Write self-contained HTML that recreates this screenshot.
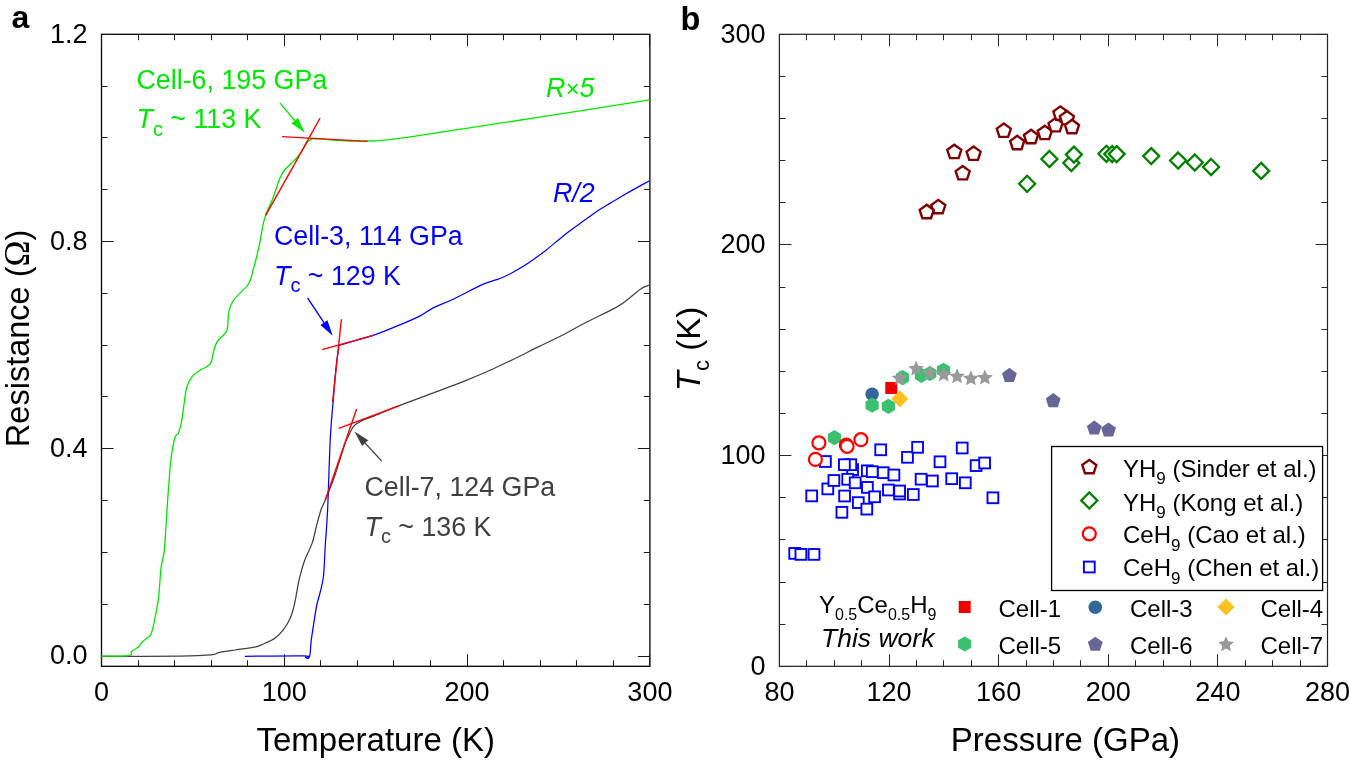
<!DOCTYPE html>
<html><head><meta charset="utf-8"><style>
html,body{margin:0;padding:0;background:#fff;}
svg{display:block;font-family:"Liberation Sans", sans-serif;will-change:transform;}
</style></head><body>
<svg width="1350" height="761" viewBox="0 0 1350 761">
<rect width="1350" height="761" fill="#fff"/>
<rect x="101.5" y="34.3" width="548.40" height="632.00" fill="none" stroke="#000" stroke-width="1.3"/>
<path d="M101.50,666.3 v-12 M101.50,34.3 v12 M138.50,666.3 v-6 M138.50,34.3 v6 M174.50,666.3 v-6 M174.50,34.3 v6 M211.50,666.3 v-6 M211.50,34.3 v6 M247.50,666.3 v-6 M247.50,34.3 v6 M284.50,666.3 v-12 M284.50,34.3 v12 M320.50,666.3 v-6 M320.50,34.3 v6 M357.50,666.3 v-6 M357.50,34.3 v6 M393.50,666.3 v-6 M393.50,34.3 v6 M430.50,666.3 v-6 M430.50,34.3 v6 M467.50,666.3 v-12 M467.50,34.3 v12 M503.50,666.3 v-6 M503.50,34.3 v6 M540.50,666.3 v-6 M540.50,34.3 v6 M576.50,666.3 v-6 M576.50,34.3 v6 M613.50,666.3 v-6 M613.50,34.3 v6 M649.50,666.3 v-12 M649.50,34.3 v12 M101.5,656.50 h12 M649.9,656.50 h-12 M101.5,604.50 h6 M649.9,604.50 h-6 M101.5,552.50 h6 M649.9,552.50 h-6 M101.5,500.50 h6 M649.9,500.50 h-6 M101.5,448.50 h12 M649.9,448.50 h-12 M101.5,396.50 h6 M649.9,396.50 h-6 M101.5,345.50 h6 M649.9,345.50 h-6 M101.5,293.50 h6 M649.9,293.50 h-6 M101.5,241.50 h12 M649.9,241.50 h-12 M101.5,189.50 h6 M649.9,189.50 h-6 M101.5,137.50 h6 M649.9,137.50 h-6 M101.5,86.50 h6 M649.9,86.50 h-6 M101.5,34.50 h12 M649.9,34.50 h-12" stroke="#1a1a1a" stroke-width="1.05" fill="none"/>
<rect x="779.4" y="34.3" width="548.10" height="632.00" fill="none" stroke="#222" stroke-width="1.2"/>
<path d="M779.50,666.3 v-12 M779.50,34.3 v12 M806.50,666.3 v-6 M806.50,34.3 v6 M834.50,666.3 v-6 M834.50,34.3 v6 M861.50,666.3 v-6 M861.50,34.3 v6 M889.50,666.3 v-12 M889.50,34.3 v12 M916.50,666.3 v-6 M916.50,34.3 v6 M943.50,666.3 v-6 M943.50,34.3 v6 M971.50,666.3 v-6 M971.50,34.3 v6 M998.50,666.3 v-12 M998.50,34.3 v12 M1026.50,666.3 v-6 M1026.50,34.3 v6 M1053.50,666.3 v-6 M1053.50,34.3 v6 M1080.50,666.3 v-6 M1080.50,34.3 v6 M1108.50,666.3 v-12 M1108.50,34.3 v12 M1135.50,666.3 v-6 M1135.50,34.3 v6 M1163.50,666.3 v-6 M1163.50,34.3 v6 M1190.50,666.3 v-6 M1190.50,34.3 v6 M1217.50,666.3 v-12 M1217.50,34.3 v12 M1245.50,666.3 v-6 M1245.50,34.3 v6 M1272.50,666.3 v-6 M1272.50,34.3 v6 M1300.50,666.3 v-6 M1300.50,34.3 v6 M1327.50,666.3 v-12 M1327.50,34.3 v12 M779.4,666.50 h12 M1327.5,666.50 h-12 M779.4,624.50 h6 M1327.5,624.50 h-6 M779.4,582.50 h6 M1327.5,582.50 h-6 M779.4,539.50 h6 M1327.5,539.50 h-6 M779.4,497.50 h6 M1327.5,497.50 h-6 M779.4,455.50 h12 M1327.5,455.50 h-12 M779.4,413.50 h6 M1327.5,413.50 h-6 M779.4,371.50 h6 M1327.5,371.50 h-6 M779.4,329.50 h6 M1327.5,329.50 h-6 M779.4,287.50 h6 M1327.5,287.50 h-6 M779.4,244.50 h12 M1327.5,244.50 h-12 M779.4,202.50 h6 M1327.5,202.50 h-6 M779.4,160.50 h6 M1327.5,160.50 h-6 M779.4,118.50 h6 M1327.5,118.50 h-6 M779.4,76.50 h6 M1327.5,76.50 h-6 M779.4,34.50 h12 M1327.5,34.50 h-12" stroke="#2a2a2a" stroke-width="1.05" fill="none"/>
<text x="87.50" y="664.40" font-size="27" text-anchor="end" fill="#000" >0.0</text>
<text x="87.50" y="457.16" font-size="27" text-anchor="end" fill="#000" >0.4</text>
<text x="87.50" y="249.92" font-size="27" text-anchor="end" fill="#000" >0.8</text>
<text x="87.50" y="42.68" font-size="27" text-anchor="end" fill="#000" >1.2</text>
<text x="101.50" y="701.00" font-size="27" text-anchor="middle" fill="#000" >0</text>
<text x="284.30" y="701.00" font-size="27" text-anchor="middle" fill="#000" >100</text>
<text x="467.10" y="701.00" font-size="27" text-anchor="middle" fill="#000" >200</text>
<text x="649.90" y="701.00" font-size="27" text-anchor="middle" fill="#000" >300</text>
<text x="765.50" y="674.70" font-size="27" text-anchor="end" fill="#000" >0</text>
<text x="765.50" y="464.03" font-size="27" text-anchor="end" fill="#000" >100</text>
<text x="765.50" y="253.37" font-size="27" text-anchor="end" fill="#000" >200</text>
<text x="765.50" y="42.70" font-size="27" text-anchor="end" fill="#000" >300</text>
<text x="779.40" y="701.00" font-size="27" text-anchor="middle" fill="#000" >80</text>
<text x="889.02" y="701.00" font-size="27" text-anchor="middle" fill="#000" >120</text>
<text x="998.64" y="701.00" font-size="27" text-anchor="middle" fill="#000" >160</text>
<text x="1108.26" y="701.00" font-size="27" text-anchor="middle" fill="#000" >200</text>
<text x="1217.88" y="701.00" font-size="27" text-anchor="middle" fill="#000" >240</text>
<text x="1327.50" y="701.00" font-size="27" text-anchor="middle" fill="#000" >280</text>
<text x="11.50" y="27.80" font-size="32" text-anchor="start" fill="#000" font-weight="bold">a</text>
<text x="680.50" y="30.30" font-size="32.5" text-anchor="start" fill="#000" font-weight="bold">b</text>
<text x="375.70" y="750.50" font-size="33" text-anchor="middle" fill="#000" >Temperature (K)</text>
<text x="1065.40" y="750.50" font-size="33" text-anchor="middle" fill="#000" >Pressure (GPa)</text>
<text transform="translate(29.2,338.4) rotate(-90)" font-size="32.5" text-anchor="middle">Resistance (<tspan font-family="Liberation Serif" font-size="35">&#937;</tspan>)</text>
<text transform="translate(700.3,349) rotate(-90)" font-size="33" text-anchor="middle"><tspan font-style="italic">T</tspan><tspan font-size="22" dy="9">c</tspan><tspan dy="-9"> (K)</tspan></text>
<path d="M101.50,656.40 C114.58,656.33 161.75,656.25 180.00,656.00 C198.25,655.75 204.57,655.45 211.00,654.90 C217.43,654.35 214.57,653.52 218.60,652.70 C222.63,651.88 229.22,650.92 235.20,650.00 C241.18,649.08 249.90,648.17 254.50,647.20 C259.10,646.23 259.35,645.73 262.80,644.20 C266.25,642.67 271.77,640.42 275.20,638.00 C278.63,635.58 280.88,633.03 283.40,629.70 C285.92,626.37 288.45,622.27 290.30,618.00 C292.15,613.73 293.12,610.08 294.50,604.10 C295.88,598.12 297.45,587.62 298.60,582.10 C299.75,576.58 300.37,574.68 301.40,571.00 C302.43,567.32 302.97,564.77 304.80,560.00 C306.63,555.23 310.40,548.30 312.40,542.40 C314.40,536.50 315.32,530.17 316.80,524.60 C318.28,519.03 319.92,513.03 321.30,509.00 C322.68,504.97 322.98,505.57 325.10,500.40 C327.22,495.23 330.75,487.27 334.00,478.00 C337.25,468.73 342.12,451.95 344.60,444.80 C347.08,437.65 347.63,437.82 348.90,435.10 C350.17,432.38 351.10,430.25 352.20,428.50 C353.30,426.75 353.78,425.95 355.50,424.60 C357.22,423.25 359.25,421.90 362.50,420.40 C365.75,418.90 368.95,418.02 375.00,415.60 C381.05,413.18 389.18,409.63 398.80,405.90 C408.42,402.17 421.27,397.55 432.70,393.20 C444.13,388.85 457.45,383.80 467.40,379.80 C477.35,375.80 484.37,372.80 492.40,369.20 C500.43,365.60 507.88,361.97 515.60,358.20 C523.32,354.43 531.00,350.38 538.70,346.60 C546.40,342.82 554.10,339.43 561.80,335.50 C569.50,331.57 575.92,327.65 584.90,323.00 C593.88,318.35 608.63,311.47 615.70,307.60 C622.77,303.73 623.13,302.92 627.30,299.80 C631.47,296.68 637.02,291.37 640.70,288.90 C644.38,286.43 647.95,285.65 649.40,285.00" stroke="#404040" stroke-width="1.25" fill="none" stroke-linejoin="round"/>
<path d="M101.50,656.20 C106.03,656.10 123.75,656.33 128.70,655.60 C133.65,654.87 130.17,652.85 131.20,651.80 C132.23,650.75 133.65,650.13 134.90,649.30 C136.15,648.47 137.45,648.05 138.70,646.80 C139.95,645.55 140.95,643.30 142.40,641.80 C143.85,640.30 146.15,638.77 147.40,637.80 C148.65,636.83 149.07,637.33 149.90,636.00 C150.73,634.67 151.37,633.75 152.40,629.80 C153.43,625.85 155.07,617.70 156.10,612.30 C157.13,606.90 157.77,604.88 158.60,597.40 C159.43,589.92 160.27,574.48 161.10,567.40 C161.93,560.32 162.98,558.65 163.60,554.90 C164.22,551.15 164.18,553.22 164.80,544.90 C165.42,536.58 166.70,514.15 167.30,505.00 C167.90,495.85 167.77,497.80 168.40,490.00 C169.03,482.20 170.00,467.00 171.10,458.20 C172.20,449.40 173.78,441.37 175.00,437.20 C176.22,433.03 177.30,435.83 178.40,433.20 C179.50,430.57 180.63,426.43 181.60,421.40 C182.57,416.37 183.33,408.70 184.20,403.00 C185.07,397.30 185.48,391.58 186.80,387.20 C188.12,382.82 189.90,379.53 192.10,376.70 C194.30,373.87 197.58,371.87 200.00,370.20 C202.42,368.53 204.75,368.02 206.60,366.70 C208.45,365.38 209.78,365.45 211.10,362.30 C212.42,359.15 213.28,351.52 214.50,347.80 C215.72,344.08 216.35,342.83 218.40,340.00 C220.45,337.17 225.05,335.63 226.80,330.80 C228.55,325.97 227.67,316.27 228.90,311.00 C230.13,305.73 230.95,303.70 234.20,299.20 C237.45,294.70 245.17,289.17 248.40,284.00 C251.63,278.83 251.85,274.33 253.60,268.20 C255.35,262.07 257.37,254.20 258.90,247.20 C260.43,240.20 261.70,231.47 262.80,226.20 C263.90,220.93 263.75,220.43 265.50,215.60 C267.25,210.77 271.12,202.88 273.30,197.20 C275.48,191.52 276.85,185.87 278.60,181.50 C280.35,177.13 281.18,174.52 283.80,171.00 C286.42,167.48 291.45,163.47 294.30,160.40 C297.15,157.33 298.70,155.67 300.90,152.60 C303.10,149.53 305.75,144.20 307.50,142.00 C309.25,139.80 309.87,139.92 311.40,139.40 C312.93,138.88 310.57,138.63 316.70,138.90 C322.83,139.17 339.73,140.65 348.20,141.00 C356.67,141.35 360.53,141.23 367.50,141.00 C374.47,140.77 374.08,141.63 390.00,139.60 C405.92,137.57 437.00,132.70 463.00,128.80 C489.00,124.90 514.88,121.03 546.00,116.20 C577.12,111.37 632.42,102.53 649.70,99.80" stroke="#00E800" stroke-width="1.3" fill="none" stroke-linejoin="round"/>
<path d="M244.80,656.30 C254.58,656.23 293.38,655.72 303.50,655.90 C313.62,656.08 304.87,656.98 305.50,657.40 C306.13,657.82 306.72,658.37 307.30,658.40 C307.88,658.43 308.52,658.50 309.00,657.60 C309.48,656.70 309.83,655.80 310.20,653.00 C310.57,650.20 310.53,646.20 311.20,640.80 C311.87,635.40 313.27,626.57 314.20,620.60 C315.13,614.63 315.83,609.60 316.80,605.00 C317.77,600.40 318.88,597.83 320.00,593.00 C321.12,588.17 322.62,584.05 323.50,576.00 C324.38,567.95 324.62,555.70 325.30,544.70 C325.98,533.70 326.77,527.78 327.60,510.00 C328.43,492.22 329.38,456.00 330.30,438.00 C331.22,420.00 332.17,413.50 333.10,402.00 C334.03,390.50 334.98,377.72 335.90,369.00 C336.82,360.28 337.68,353.75 338.60,349.70 C339.52,345.65 335.88,347.00 341.40,344.70 C346.92,342.40 362.50,338.98 371.70,335.90 C380.90,332.82 388.67,329.45 396.60,326.20 C404.53,322.95 413.28,319.42 419.30,316.40 C425.32,313.38 427.25,310.87 432.70,308.10 C438.15,305.33 443.65,303.75 452.00,299.80 C460.35,295.85 474.80,287.95 482.80,284.40 C490.80,280.85 495.03,280.48 500.00,278.50 C504.97,276.52 507.87,275.08 512.60,272.50 C517.33,269.92 522.88,266.68 528.40,263.00 C533.92,259.32 539.93,254.87 545.70,250.40 C551.47,245.93 557.48,240.53 563.00,236.20 C568.52,231.87 573.53,228.28 578.80,224.40 C584.07,220.52 589.35,216.45 594.60,212.90 C599.85,209.35 605.05,206.30 610.30,203.10 C615.55,199.90 619.65,197.38 626.10,193.70 C632.55,190.02 645.18,183.12 649.00,181.00" stroke="#0000FF" stroke-width="1.25" fill="none" stroke-linejoin="round"/>
<path d="M282.10,136.60 L367.50,141.40" stroke="#FF0000" stroke-width="1.4" fill="none"/>
<path d="M294.40,164.40 L320.10,118.00" stroke="#FF0000" stroke-width="1.4" fill="none"/>
<path d="M265.50,215.60 L294.40,164.40" stroke="#FF0000" stroke-width="1.4" fill="none"/>
<path d="M322.10,349.70 L373.10,335.30" stroke="#FF0000" stroke-width="1.4" fill="none"/>
<path d="M332.60,402.10 L341.40,319.30" stroke="#FF0000" stroke-width="1.4" fill="none"/>
<path d="M338.60,428.30 L399.30,405.70" stroke="#FF0000" stroke-width="1.4" fill="none"/>
<path d="M325.10,500.40 L356.60,409.00" stroke="#FF0000" stroke-width="1.4" fill="none"/>
<path d="M280.10,103.10 L294.68,120.57" stroke="#00E800" stroke-width="1.4"/>
<path d="M304.80,132.70 L291.45,123.26 L297.90,117.88 Z" fill="#00E800"/>
<path d="M307.50,297.90 L323.94,322.55" stroke="#0000FF" stroke-width="1.4"/>
<path d="M332.70,335.70 L320.44,324.88 L327.43,320.22 Z" fill="#0000FF"/>
<path d="M381.70,461.10 L365.19,443.13" stroke="#404040" stroke-width="1.4"/>
<path d="M354.50,431.50 L368.28,440.29 L362.10,445.98 Z" fill="#404040"/>
<text x="136.5" y="89.2" font-size="26.8" fill="#00E800">Cell-6, 195 GPa</text>
<text x="136.5" y="128.3" font-size="26.8" fill="#00E800"><tspan font-style="italic">T</tspan><tspan font-size="20" dy="7.5">c</tspan><tspan dy="-7.5"> ~ 113 K</tspan></text>
<text x="274" y="245.2" font-size="26.8" fill="#0000FF">Cell-3, 114 GPa</text>
<text x="274" y="284.7" font-size="26.8" fill="#0000FF"><tspan font-style="italic">T</tspan><tspan font-size="20" dy="7.5">c</tspan><tspan dy="-7.5"> ~ 129 K</tspan></text>
<text x="364.5" y="496" font-size="26.8" fill="#404040">Cell-7, 124 GPa</text>
<text x="364.5" y="535.6" font-size="26.8" fill="#404040"><tspan font-style="italic">T</tspan><tspan font-size="20" dy="7.5">c</tspan><tspan dy="-7.5"> ~ 136 K</tspan></text>
<text x="546" y="97.3" font-size="26.8" fill="#00E800"><tspan font-style="italic">R</tspan><tspan font-style="italic" font-size="24">&#215;</tspan><tspan font-style="italic">5</tspan></text>
<text x="553" y="201.5" font-size="26.8" fill="#0000FF" font-style="italic">R/2</text>
<rect x="789.30" y="548.00" width="10.8" height="10.8" fill="#fff" stroke="#0000FF" stroke-width="1.9"/>
<rect x="795.50" y="549.00" width="10.8" height="10.8" fill="#fff" stroke="#0000FF" stroke-width="1.9"/>
<rect x="808.60" y="549.00" width="10.8" height="10.8" fill="#fff" stroke="#0000FF" stroke-width="1.9"/>
<rect x="806.30" y="490.50" width="10.8" height="10.8" fill="#fff" stroke="#0000FF" stroke-width="1.9"/>
<rect x="820.00" y="456.10" width="10.8" height="10.8" fill="#fff" stroke="#0000FF" stroke-width="1.9"/>
<rect x="822.40" y="483.50" width="10.8" height="10.8" fill="#fff" stroke="#0000FF" stroke-width="1.9"/>
<rect x="828.50" y="475.10" width="10.8" height="10.8" fill="#fff" stroke="#0000FF" stroke-width="1.9"/>
<rect x="836.50" y="506.90" width="10.8" height="10.8" fill="#fff" stroke="#0000FF" stroke-width="1.9"/>
<rect x="847.20" y="464.20" width="10.8" height="10.8" fill="#fff" stroke="#0000FF" stroke-width="1.9"/>
<rect x="845.40" y="459.30" width="10.8" height="10.8" fill="#fff" stroke="#0000FF" stroke-width="1.9"/>
<rect x="839.00" y="459.30" width="10.8" height="10.8" fill="#fff" stroke="#0000FF" stroke-width="1.9"/>
<rect x="839.20" y="490.60" width="10.8" height="10.8" fill="#fff" stroke="#0000FF" stroke-width="1.9"/>
<rect x="842.30" y="473.90" width="10.8" height="10.8" fill="#fff" stroke="#0000FF" stroke-width="1.9"/>
<rect x="849.80" y="477.40" width="10.8" height="10.8" fill="#fff" stroke="#0000FF" stroke-width="1.9"/>
<rect x="852.90" y="497.20" width="10.8" height="10.8" fill="#fff" stroke="#0000FF" stroke-width="1.9"/>
<rect x="861.40" y="503.70" width="10.8" height="10.8" fill="#fff" stroke="#0000FF" stroke-width="1.9"/>
<rect x="862.00" y="482.00" width="10.8" height="10.8" fill="#fff" stroke="#0000FF" stroke-width="1.9"/>
<rect x="861.90" y="465.40" width="10.8" height="10.8" fill="#fff" stroke="#0000FF" stroke-width="1.9"/>
<rect x="866.90" y="466.30" width="10.8" height="10.8" fill="#fff" stroke="#0000FF" stroke-width="1.9"/>
<rect x="869.20" y="491.40" width="10.8" height="10.8" fill="#fff" stroke="#0000FF" stroke-width="1.9"/>
<rect x="875.30" y="444.40" width="10.8" height="10.8" fill="#fff" stroke="#0000FF" stroke-width="1.9"/>
<rect x="877.90" y="467.30" width="10.8" height="10.8" fill="#fff" stroke="#0000FF" stroke-width="1.9"/>
<rect x="883.00" y="484.60" width="10.8" height="10.8" fill="#fff" stroke="#0000FF" stroke-width="1.9"/>
<rect x="888.50" y="469.60" width="10.8" height="10.8" fill="#fff" stroke="#0000FF" stroke-width="1.9"/>
<rect x="894.20" y="488.60" width="10.8" height="10.8" fill="#fff" stroke="#0000FF" stroke-width="1.9"/>
<rect x="894.20" y="485.60" width="10.8" height="10.8" fill="#fff" stroke="#0000FF" stroke-width="1.9"/>
<rect x="907.90" y="489.10" width="10.8" height="10.8" fill="#fff" stroke="#0000FF" stroke-width="1.9"/>
<rect x="902.10" y="451.90" width="10.8" height="10.8" fill="#fff" stroke="#0000FF" stroke-width="1.9"/>
<rect x="912.20" y="441.90" width="10.8" height="10.8" fill="#fff" stroke="#0000FF" stroke-width="1.9"/>
<rect x="915.70" y="473.80" width="10.8" height="10.8" fill="#fff" stroke="#0000FF" stroke-width="1.9"/>
<rect x="927.00" y="475.60" width="10.8" height="10.8" fill="#fff" stroke="#0000FF" stroke-width="1.9"/>
<rect x="934.60" y="456.40" width="10.8" height="10.8" fill="#fff" stroke="#0000FF" stroke-width="1.9"/>
<rect x="946.30" y="473.30" width="10.8" height="10.8" fill="#fff" stroke="#0000FF" stroke-width="1.9"/>
<rect x="956.80" y="442.60" width="10.8" height="10.8" fill="#fff" stroke="#0000FF" stroke-width="1.9"/>
<rect x="959.90" y="477.40" width="10.8" height="10.8" fill="#fff" stroke="#0000FF" stroke-width="1.9"/>
<rect x="970.70" y="460.20" width="10.8" height="10.8" fill="#fff" stroke="#0000FF" stroke-width="1.9"/>
<rect x="979.20" y="457.60" width="10.8" height="10.8" fill="#fff" stroke="#0000FF" stroke-width="1.9"/>
<rect x="987.50" y="492.40" width="10.8" height="10.8" fill="#fff" stroke="#0000FF" stroke-width="1.9"/>
<circle cx="872.10" cy="394.30" r="6.7" fill="#336699" stroke="none" stroke-width="0"/>
<path d="M834.40,430.10 L840.98,433.90 L840.98,441.50 L834.40,445.30 L827.82,441.50 L827.82,433.90Z" fill="#3CC070" stroke="none"/>
<path d="M872.10,397.60 L878.68,401.40 L878.68,409.00 L872.10,412.80 L865.52,409.00 L865.52,401.40Z" fill="#3CC070" stroke="none"/>
<path d="M888.40,398.70 L894.98,402.50 L894.98,410.10 L888.40,413.90 L881.82,410.10 L881.82,402.50Z" fill="#3CC070" stroke="none"/>
<path d="M902.50,370.00 L909.08,373.80 L909.08,381.40 L902.50,385.20 L895.92,381.40 L895.92,373.80Z" fill="#3CC070" stroke="none"/>
<path d="M921.40,367.70 L927.98,371.50 L927.98,379.10 L921.40,382.90 L914.82,379.10 L914.82,371.50Z" fill="#3CC070" stroke="none"/>
<path d="M929.80,365.90 L936.38,369.70 L936.38,377.30 L929.80,381.10 L923.22,377.30 L923.22,369.70Z" fill="#3CC070" stroke="none"/>
<path d="M943.50,362.80 L950.08,366.60 L950.08,374.20 L943.50,378.00 L936.92,374.20 L936.92,366.60Z" fill="#3CC070" stroke="none"/>
<rect x="885.30" y="382.00" width="12" height="12" fill="#EE0000"/>
<path d="M899.80,390.20 L908.40,398.80 L899.80,407.40 L891.20,398.80Z" fill="#FFC020" stroke="none"/>
<path d="M899.70,370.20 L901.99,375.34 L907.59,375.94 L903.41,379.71 L904.58,385.21 L899.70,382.40 L894.82,385.21 L895.99,379.71 L891.81,375.94 L897.41,375.34Z" fill="#999999"/>
<path d="M916.10,360.50 L918.39,365.64 L923.99,366.24 L919.81,370.01 L920.98,375.51 L916.10,372.70 L911.22,375.51 L912.39,370.01 L908.21,366.24 L913.81,365.64Z" fill="#999999"/>
<path d="M929.60,365.10 L931.89,370.24 L937.49,370.84 L933.31,374.61 L934.48,380.11 L929.60,377.30 L924.72,380.11 L925.89,374.61 L921.71,370.84 L927.31,370.24Z" fill="#999999"/>
<path d="M943.70,366.40 L945.99,371.54 L951.59,372.14 L947.41,375.91 L948.58,381.41 L943.70,378.60 L938.82,381.41 L939.99,375.91 L935.81,372.14 L941.41,371.54Z" fill="#999999"/>
<path d="M957.10,368.30 L959.39,373.44 L964.99,374.04 L960.81,377.81 L961.98,383.31 L957.10,380.50 L952.22,383.31 L953.39,377.81 L949.21,374.04 L954.81,373.44Z" fill="#999999"/>
<path d="M970.90,370.30 L973.19,375.44 L978.79,376.04 L974.61,379.81 L975.78,385.31 L970.90,382.50 L966.02,385.31 L967.19,379.81 L963.01,376.04 L968.61,375.44Z" fill="#999999"/>
<path d="M984.90,369.50 L987.19,374.64 L992.79,375.24 L988.61,379.01 L989.78,384.51 L984.90,381.70 L980.02,384.51 L981.19,379.01 L977.01,375.24 L982.61,374.64Z" fill="#999999"/>
<path d="M1009.40,367.80 L1016.82,373.19 L1013.98,381.91 L1004.82,381.91 L1001.98,373.19Z" fill="#666699" stroke="none"/>
<path d="M1053.20,393.10 L1060.62,398.49 L1057.78,407.21 L1048.62,407.21 L1045.78,398.49Z" fill="#666699" stroke="none"/>
<path d="M1094.30,420.50 L1101.72,425.89 L1098.88,434.61 L1089.72,434.61 L1086.88,425.89Z" fill="#666699" stroke="none"/>
<path d="M1108.50,422.40 L1115.92,427.79 L1113.08,436.51 L1103.92,436.51 L1101.08,427.79Z" fill="#666699" stroke="none"/>
<circle cx="818.90" cy="442.80" r="6.5" fill="#fff" stroke="#FF0000" stroke-width="2.2"/>
<circle cx="815.40" cy="459.40" r="6.5" fill="#fff" stroke="#FF0000" stroke-width="2.2"/>
<circle cx="846.30" cy="445.00" r="6.5" fill="#fff" stroke="#FF0000" stroke-width="2.2"/>
<circle cx="847.10" cy="446.30" r="6.5" fill="#fff" stroke="#FF0000" stroke-width="2.2"/>
<circle cx="860.90" cy="439.70" r="6.5" fill="#fff" stroke="#FF0000" stroke-width="2.2"/>
<path d="M938.30,199.90 L945.34,205.01 L942.65,213.29 L933.95,213.29 L931.26,205.01Z" fill="#fff" stroke="#800000" stroke-width="2.4" stroke-linejoin="miter"/>
<path d="M926.70,204.80 L933.74,209.91 L931.05,218.19 L922.35,218.19 L919.66,209.91Z" fill="#fff" stroke="#800000" stroke-width="2.4" stroke-linejoin="miter"/>
<path d="M954.30,144.70 L961.34,149.81 L958.65,158.09 L949.95,158.09 L947.26,149.81Z" fill="#fff" stroke="#800000" stroke-width="2.4" stroke-linejoin="miter"/>
<path d="M973.60,146.50 L980.64,151.61 L977.95,159.89 L969.25,159.89 L966.56,151.61Z" fill="#fff" stroke="#800000" stroke-width="2.4" stroke-linejoin="miter"/>
<path d="M962.70,166.00 L969.74,171.11 L967.05,179.39 L958.35,179.39 L955.66,171.11Z" fill="#fff" stroke="#800000" stroke-width="2.4" stroke-linejoin="miter"/>
<path d="M1003.80,123.50 L1010.84,128.61 L1008.15,136.89 L999.45,136.89 L996.76,128.61Z" fill="#fff" stroke="#800000" stroke-width="2.4" stroke-linejoin="miter"/>
<path d="M1017.20,135.80 L1024.24,140.91 L1021.55,149.19 L1012.85,149.19 L1010.16,140.91Z" fill="#fff" stroke="#800000" stroke-width="2.4" stroke-linejoin="miter"/>
<path d="M1031.00,129.80 L1038.04,134.91 L1035.35,143.19 L1026.65,143.19 L1023.96,134.91Z" fill="#fff" stroke="#800000" stroke-width="2.4" stroke-linejoin="miter"/>
<path d="M1044.80,125.70 L1051.84,130.81 L1049.15,139.09 L1040.45,139.09 L1037.76,130.81Z" fill="#fff" stroke="#800000" stroke-width="2.4" stroke-linejoin="miter"/>
<path d="M1055.50,118.00 L1062.54,123.11 L1059.85,131.39 L1051.15,131.39 L1048.46,123.11Z" fill="#fff" stroke="#800000" stroke-width="2.4" stroke-linejoin="miter"/>
<path d="M1060.40,106.40 L1067.44,111.51 L1064.75,119.79 L1056.05,119.79 L1053.36,111.51Z" fill="#fff" stroke="#800000" stroke-width="2.4" stroke-linejoin="miter"/>
<path d="M1066.90,111.00 L1073.94,116.11 L1071.25,124.39 L1062.55,124.39 L1059.86,116.11Z" fill="#fff" stroke="#800000" stroke-width="2.4" stroke-linejoin="miter"/>
<path d="M1072.00,119.80 L1079.04,124.91 L1076.35,133.19 L1067.65,133.19 L1064.96,124.91Z" fill="#fff" stroke="#800000" stroke-width="2.4" stroke-linejoin="miter"/>
<path d="M1027.10,175.80 L1035.10,183.80 L1027.10,191.80 L1019.10,183.80Z" fill="#fff" stroke="#008000" stroke-width="2.3" stroke-linejoin="miter"/>
<path d="M1049.40,151.00 L1057.40,159.00 L1049.40,167.00 L1041.40,159.00Z" fill="#fff" stroke="#008000" stroke-width="2.3" stroke-linejoin="miter"/>
<path d="M1071.30,155.00 L1079.30,163.00 L1071.30,171.00 L1063.30,163.00Z" fill="#fff" stroke="#008000" stroke-width="2.3" stroke-linejoin="miter"/>
<path d="M1073.90,146.60 L1081.90,154.60 L1073.90,162.60 L1065.90,154.60Z" fill="#fff" stroke="#008000" stroke-width="2.3" stroke-linejoin="miter"/>
<path d="M1106.40,145.80 L1114.40,153.80 L1106.40,161.80 L1098.40,153.80Z" fill="#fff" stroke="#008000" stroke-width="2.3" stroke-linejoin="miter"/>
<path d="M1112.20,146.10 L1120.20,154.10 L1112.20,162.10 L1104.20,154.10Z" fill="#fff" stroke="#008000" stroke-width="2.3" stroke-linejoin="miter"/>
<path d="M1116.70,146.10 L1124.70,154.10 L1116.70,162.10 L1108.70,154.10Z" fill="#fff" stroke="#008000" stroke-width="2.3" stroke-linejoin="miter"/>
<path d="M1151.20,148.10 L1159.20,156.10 L1151.20,164.10 L1143.20,156.10Z" fill="#fff" stroke="#008000" stroke-width="2.3" stroke-linejoin="miter"/>
<path d="M1178.10,152.50 L1186.10,160.50 L1178.10,168.50 L1170.10,160.50Z" fill="#fff" stroke="#008000" stroke-width="2.3" stroke-linejoin="miter"/>
<path d="M1194.80,154.50 L1202.80,162.50 L1194.80,170.50 L1186.80,162.50Z" fill="#fff" stroke="#008000" stroke-width="2.3" stroke-linejoin="miter"/>
<path d="M1211.10,159.00 L1219.10,167.00 L1211.10,175.00 L1203.10,167.00Z" fill="#fff" stroke="#008000" stroke-width="2.3" stroke-linejoin="miter"/>
<path d="M1261.20,162.90 L1269.20,170.90 L1261.20,178.90 L1253.20,170.90Z" fill="#fff" stroke="#008000" stroke-width="2.3" stroke-linejoin="miter"/>
<rect x="1051.6" y="446.5" width="271" height="144" fill="#fff" stroke="#000" stroke-width="1.3"/>
<path d="M1089.30,459.90 L1096.34,465.01 L1093.65,473.29 L1084.95,473.29 L1082.26,465.01Z" fill="#fff" stroke="#800000" stroke-width="2.4" stroke-linejoin="miter"/>
<path d="M1089.30,492.50 L1097.30,500.50 L1089.30,508.50 L1081.30,500.50Z" fill="#fff" stroke="#008000" stroke-width="2.3" stroke-linejoin="miter"/>
<circle cx="1089.30" cy="533.80" r="6.5" fill="#fff" stroke="#FF0000" stroke-width="2.2"/>
<rect x="1083.90" y="561.60" width="10.8" height="10.8" fill="#fff" stroke="#0000FF" stroke-width="1.9"/>
<text x="1123" y="476.7" font-size="24">YH<tspan font-size="17" dy="7.5">9</tspan><tspan dy="-7.5"> (Sinder et al.)</tspan></text>
<text x="1123" y="510.7" font-size="24">YH<tspan font-size="17" dy="7.5">9</tspan><tspan dy="-7.5"> (Kong et al.)</tspan></text>
<text x="1123" y="543.3" font-size="24">CeH<tspan font-size="17" dy="7.5">9</tspan><tspan dy="-7.5"> (Cao et al.)</tspan></text>
<text x="1123" y="576.0" font-size="24">CeH<tspan font-size="17" dy="7.5">9</tspan><tspan dy="-7.5"> (Chen et al.)</tspan></text>
<text x="819" y="613" font-size="24">Y<tspan font-size="16" dy="6.5">0.5</tspan><tspan dy="-6.5">Ce</tspan><tspan font-size="16" dy="6.5">0.5</tspan><tspan dy="-6.5">H</tspan><tspan font-size="16" dy="6.5">9</tspan></text>
<text x="821" y="647.2" font-size="26.5" font-style="italic">This work</text>
<rect x="958.7" y="601" width="12" height="12" fill="#EE0000"/>
<path d="M964.70,636.40 L971.28,640.20 L971.28,647.80 L964.70,651.60 L958.12,647.80 L958.12,640.20Z" fill="#3CC070" stroke="none"/>
<circle cx="1095.30" cy="607.20" r="6.8" fill="#336699" stroke="none" stroke-width="0"/>
<path d="M1095.30,636.70 L1102.72,642.09 L1099.88,650.81 L1090.72,650.81 L1087.88,642.09Z" fill="#666699" stroke="none"/>
<path d="M1226.00,598.40 L1234.60,607.00 L1226.00,615.60 L1217.40,607.00Z" fill="#FFC020" stroke="none"/>
<path d="M1226.00,636.20 L1228.29,641.34 L1233.89,641.94 L1229.71,645.71 L1230.88,651.21 L1226.00,648.40 L1221.12,651.21 L1222.29,645.71 L1218.11,641.94 L1223.71,641.34Z" fill="#999999"/>
<text x="998.5" y="616.5" font-size="24">Cell-1</text>
<text x="998.5" y="653.6" font-size="24">Cell-5</text>
<text x="1130" y="616.5" font-size="24">Cell-3</text>
<text x="1130" y="653.6" font-size="24">Cell-6</text>
<text x="1260.5" y="616.5" font-size="24">Cell-4</text>
<text x="1260.5" y="653.6" font-size="24">Cell-7</text>
</svg></body></html>
